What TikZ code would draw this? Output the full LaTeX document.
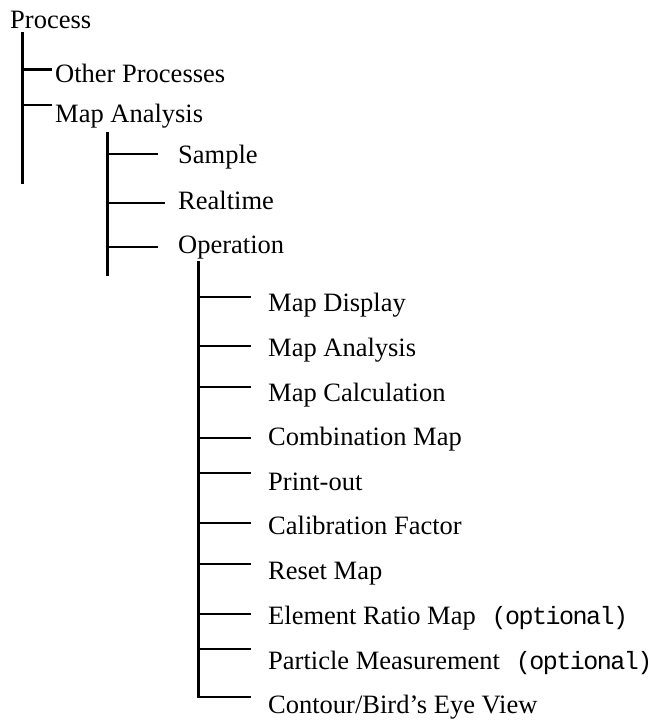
\documentclass[tikz,border=0pt]{standalone}
\usepackage{fontspec}
\setmainfont{Liberation Serif}
\newfontfamily\optfont[LetterSpace=-6]{Liberation Mono}
\begin{document}
\begin{tikzpicture}[x=1pt,y=-1pt,
  lbl/.style={anchor=base west,inner sep=0pt,font=\fontsize{26.5}{30}\selectfont},
  tree/.style={line width=2.1pt,line cap=rect}]
\useasboundingbox (0,0) rectangle (656,720);
\newcommand{\opt}{\hspace{0.6em}{\optfont\fontsize{25}{28}\selectfont (optional)}}
% labels
\node[lbl] (root) at (10,28) {Process};
\node[lbl] (oth) at (55,82) {Other Processes};
\node[lbl] (ma) at (55,122) {Map Analysis};
\node[lbl] (smp) at (178,163) {Sample};
\node[lbl] (rt) at (178,209) {Realtime};
\node[lbl] (op) at (178,253) {Operation};
\node[lbl] (md) at (268,311) {Map Display};
\node[lbl] (man) at (268,356) {Map Analysis};
\node[lbl] (mc) at (268,401) {Map Calculation};
\node[lbl] (cm) at (268,445) {Combination Map};
\node[lbl] (po) at (268,490) {Print-out};
\node[lbl] (cf) at (268,534) {Calibration Factor};
\node[lbl] (rm) at (268,579) {Reset Map};
\node[lbl] (er) at (268,624) {Element Ratio Map\opt};
\node[lbl] (pm) at (268,669) {Particle Measurement\opt};
\node[lbl] (cb) at (268,713) {Contour/Bird’s Eye View};
% trunk coordinates
\coordinate (t1a) at (22.5,33);  \coordinate (t1b) at (22.5,183);
\coordinate (t2a) at (107.5,133); \coordinate (t2b) at (107.5,275);
\coordinate (t3a) at (198.5,262);
% trunks
\draw[tree] (t1a) -- (t1b);
\draw[tree] (t2a) -- (t2b);
% level 1 branches
\foreach \y/\e in {69.5/51, 105/51} \draw[tree] (t1a |- 0,\y) -- (\e,\y);
% level 2 branches
\foreach \y/\e in {154/157, 203/164, 247/157} \draw[tree] (t2a |- 0,\y) -- (\e,\y);
% level 3 branches
\foreach \y in {297,346,387,438,473,523,564,614,649} \draw[tree] (t3a |- 0,\y) -- (250,\y);
\coordinate (t3b) at (198.5,697);
\coordinate (t3e) at (250,697);
\draw[tree,line join=miter] (t3a) -- (t3b) -- (t3e);
\end{tikzpicture}
\end{document}
